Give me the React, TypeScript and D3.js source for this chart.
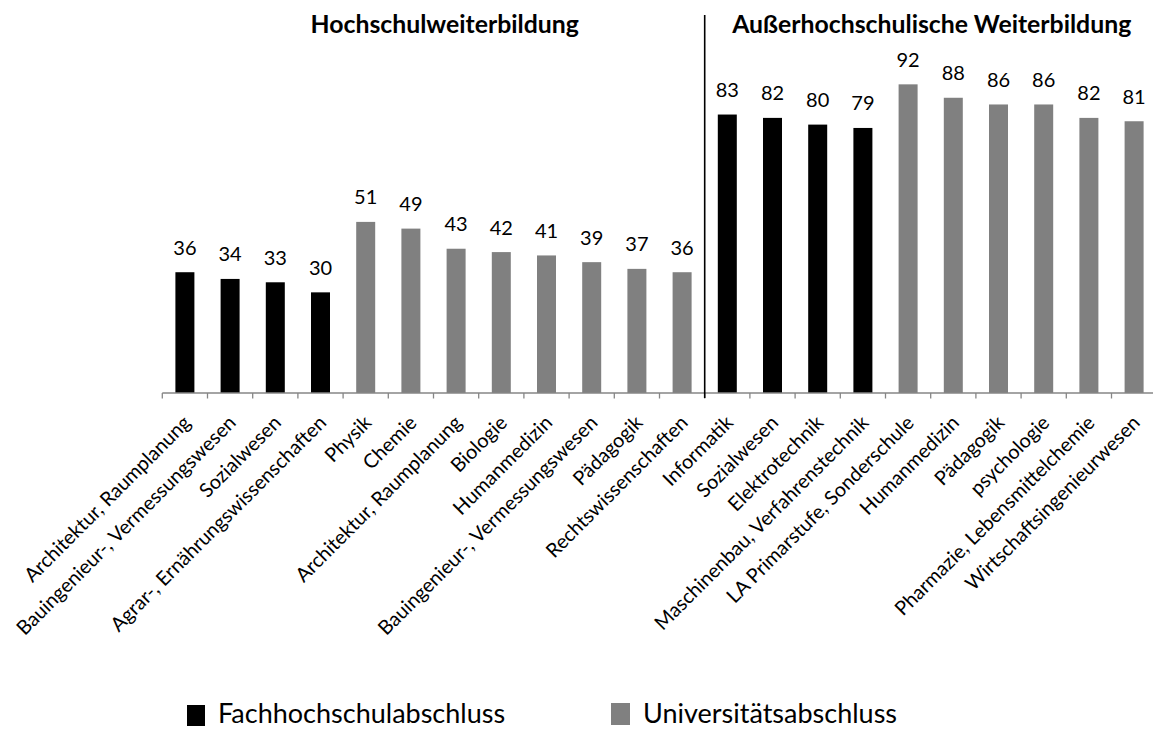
import React from "react";
import * as d3 from "d3";

const categories = [
  "Architektur, Raumplanung",
  "Bauingenieur-, Vermessungswesen",
  "Sozialwesen",
  "Agrar-, Ernährungswissenschaften",
  "Physik",
  "Chemie",
  "Architektur, Raumplanung",
  "Biologie",
  "Humanmedizin",
  "Bauingenieur-, Vermessungswesen",
  "Pädagogik",
  "Rechtswissenschaften",
  "Informatik",
  "Sozialwesen",
  "Elektrotechnik",
  "Maschinenbau, Verfahrenstechnik",
  "LA Primarstufe, Sonderschule",
  "Humanmedizin",
  "Pädagogik",
  "psychologie",
  "Pharmazie, Lebensmittelchemie",
  "Wirtschaftsingenieurwesen",
];
const values = [36, 34, 33, 30, 51, 49, 43, 42, 41, 39, 37, 36, 83, 82, 80, 79, 92, 88, 86, 86, 82, 81];
const degree = ["FH", "FH", "FH", "FH", "Uni", "Uni", "Uni", "Uni", "Uni", "Uni", "Uni", "Uni",
  "FH", "FH", "FH", "FH", "Uni", "Uni", "Uni", "Uni", "Uni", "Uni"];
const groupTitles = ["Hochschulweiterbildung", "Außerhochschulische Weiterbildung"];
const groupSizes = [12, 10];
const legendLabels = ["Fachhochschulabschluss", "Universitätsabschluss"];
const legendKeys = ["FH", "Uni"];

const W = 1153;
const H = 729;
const FONT = "Lato, 'Open Sans', sans-serif";

export default function App() {
  const x0 = 162.3;
  const step = 45.2;
  const idx = categories.map((_, i) => String(i));
  const x = d3.scaleBand<string>().domain(idx).range([x0, x0 + step * categories.length]).paddingInner(0.58).paddingOuter(0.29);
  const y = d3.scaleLinear().domain([0, 100]).range([393, 57.5]);
  const color = d3.scaleOrdinal<string, string>().domain(legendKeys).range(["#000000", "#808080"]);
  const bw = 19;
  const ticks = d3.range(categories.length + 1).map((i) => x0 + i * step);
  const sepX = x0 + groupSizes[0] * step;
  const baseY = y(0);

  return (
    <svg width={W} height={H} style={{ position: "absolute", left: 0, top: 0, background: "#fff" }} fontFamily={FONT}>
      <rect x={0} y={0} width={W} height={H} fill="#fff" />
      {/* bars */}
      {values.map((v, i) => {
        const cx = x(String(i))! + x.bandwidth() / 2;
        return (
          <g key={i}>
            <rect x={cx - bw / 2} y={y(v)} width={bw} height={baseY - y(v)} fill={color(degree[i])} />
            <text x={cx} y={y(v) - 17.5} textAnchor="middle" fontSize={20} fill="#000">
              {v}
            </text>
          </g>
        );
      })}
      {/* axis */}
      <line x1={x0} x2={W} y1={baseY} y2={baseY} stroke="#868686" strokeWidth={1.3} />
      {ticks.map((t, i) => (
        <line key={i} x1={t} x2={t} y1={baseY} y2={baseY + 5.5} stroke="#868686" strokeWidth={1.3} />
      ))}
      {/* separator */}
      <line x1={sepX} x2={sepX} y1={15} y2={398} stroke="#000" strokeWidth={1.6} />
      {/* group titles */}
      <text x={444.7} y={33} textAnchor="middle" fontWeight="bold" fontSize={24.8} fill="#000">
        {groupTitles[0]}
      </text>
      <text x={931.7} y={33} textAnchor="middle" fontWeight="bold" fontSize={24.8} fill="#000">
        {groupTitles[1]}
      </text>
      {/* category labels */}
      {categories.map((c, i) => {
        const cx = x(String(i))! + x.bandwidth() / 2;
        return (
          <text key={i} transform={`translate(${cx + 7},${424}) rotate(-45)`} textAnchor="end" fontSize={19.8} fill="#000">
            {c}
          </text>
        );
      })}
      {/* legend */}
      <rect x={187} y={705} width={18} height={21} fill={color(legendKeys[0])} />
      <text x={218} y={722.5} fontSize={27} fill="#000">{legendLabels[0]}</text>
      <rect x={611} y={703} width={19} height={22} fill={color(legendKeys[1])} />
      <text x={643} y={722.5} fontSize={27} fill="#000">{legendLabels[1]}</text>
    </svg>
  );
}
